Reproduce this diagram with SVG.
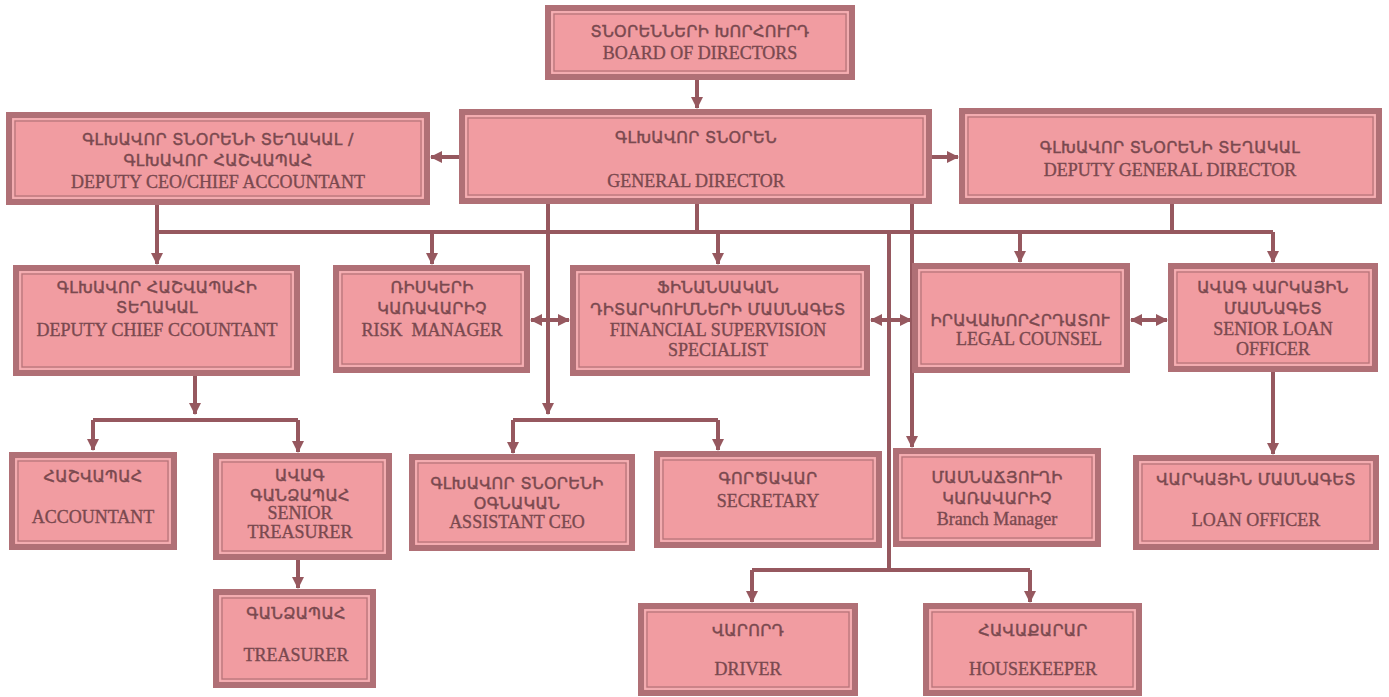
<svg xmlns="http://www.w3.org/2000/svg" width="1389" height="697" viewBox="0 0 1389 697">
<defs>
<style>
.box{fill:#f19ca1;stroke:#b07076;stroke-width:6}
.in1{fill:none;stroke:#f5bcbf;stroke-width:1}
.in2{fill:none;stroke:#b27479;stroke-width:1.2}
text{font-family:"Liberation Serif","DejaVu Serif",serif;font-size:18px;fill:#7a494f;stroke:#7a494f;stroke-width:0.35;text-anchor:middle}
.am{font-family:"DejaVu Sans","Liberation Sans",sans-serif;font-size:16px;letter-spacing:0.3px;stroke-width:0.45}
.ln{fill:none;stroke:#96585f;stroke-width:4}
</style>
<marker id="ah" viewBox="0 0 12 12" refX="11" refY="6" markerWidth="12" markerHeight="12" markerUnits="userSpaceOnUse" orient="auto-start-reverse">
<path d="M0,0 L12,6 L0,12 Z" fill="#96585f"/>
</marker>
</defs>
<rect width="1389" height="697" fill="#ffffff"/>

<g id="connectors">
<path class="ln" d="M697,80 V108" marker-end="url(#ah)"/>
<path class="ln" d="M459,157 H431" marker-end="url(#ah)"/>
<path class="ln" d="M932,157 H958" marker-end="url(#ah)"/>
<path class="ln" d="M157,232 H1273"/>
<path class="ln" d="M157,205 V264" marker-end="url(#ah)"/>
<path class="ln" d="M697,204 V232"/>
<path class="ln" d="M1172,204 V232"/>
<path class="ln" d="M432,232 V264" marker-end="url(#ah)"/>
<path class="ln" d="M718,232 V264" marker-end="url(#ah)"/>
<path class="ln" d="M1020,232 V262" marker-end="url(#ah)"/>
<path class="ln" d="M1273,232 V262" marker-end="url(#ah)"/>
<path class="ln" d="M531,320 H569" marker-start="url(#ah)" marker-end="url(#ah)"/>
<path class="ln" d="M871,320 H911" marker-start="url(#ah)" marker-end="url(#ah)"/>
<path class="ln" d="M1131,320 H1167" marker-start="url(#ah)" marker-end="url(#ah)"/>
<path class="ln" d="M548,204 V414" marker-end="url(#ah)"/>
<path class="ln" d="M513,420 H718"/>
<path class="ln" d="M513,420 V453" marker-end="url(#ah)"/>
<path class="ln" d="M718,420 V450" marker-end="url(#ah)"/>
<path class="ln" d="M889,232 V570"/>
<path class="ln" d="M912,204 V447" marker-end="url(#ah)"/>
<path class="ln" d="M752,570 H1030"/>
<path class="ln" d="M752,570 V602" marker-end="url(#ah)"/>
<path class="ln" d="M1030,570 V602" marker-end="url(#ah)"/>
<path class="ln" d="M195,376 V414" marker-end="url(#ah)"/>
<path class="ln" d="M93,420 H298"/>
<path class="ln" d="M93,420 V450" marker-end="url(#ah)"/>
<path class="ln" d="M298,420 V452" marker-end="url(#ah)"/>
<path class="ln" d="M298,560 V588" marker-end="url(#ah)"/>
<path class="ln" d="M1273,372 V454" marker-end="url(#ah)"/>
</g>

<g id="board">
<rect class="box" x="548" y="8" width="304" height="69"/>
<rect class="in1" x="552" y="12" width="296" height="61"/>
<rect class="in2" x="554" y="14" width="292" height="57"/>
<text x="700" y="37" class="am">ՏՆՕՐԵՆՆԵՐԻ ԽՈՐՀՈՒՐԴ</text>
<text x="700" y="59">BOARD OF DIRECTORS</text>
</g>

<g id="deputy-ceo">
<rect class="box" x="9" y="115" width="418" height="87"/>
<rect class="in1" x="13" y="119" width="410" height="79"/>
<rect class="in2" x="15" y="121" width="406" height="75"/>
<text x="218" y="145" class="am">ԳԼԽԱՎՈՐ ՏՆՕՐԵՆԻ ՏԵՂԱԿԱԼ /</text>
<text x="218" y="166" class="am">ԳԼԽԱՎՈՐ ՀԱՇՎԱՊԱՀ</text>
<text x="218" y="188">DEPUTY CEO/CHIEF ACCOUNTANT</text>
</g>

<g id="general-director">
<rect class="box" x="462" y="112" width="467" height="89"/>
<rect class="in1" x="466" y="116" width="459" height="81"/>
<rect class="in2" x="468" y="118" width="455" height="77"/>
<text x="696" y="143" class="am">ԳԼԽԱՎՈՐ ՏՆՕՐԵՆ</text>
<text x="696" y="187">GENERAL DIRECTOR</text>
</g>

<g id="deputy-general-director">
<rect class="box" x="962" y="111" width="417" height="90"/>
<rect class="in1" x="966" y="115" width="409" height="82"/>
<rect class="in2" x="968" y="117" width="405" height="78"/>
<text x="1170" y="153" class="am">ԳԼԽԱՎՈՐ ՏՆՕՐԵՆԻ ՏԵՂԱԿԱԼ</text>
<text x="1170" y="176">DEPUTY GENERAL DIRECTOR</text>
</g>

<g id="deputy-chief-accountant">
<rect class="box" x="16" y="268" width="281" height="105"/>
<rect class="in1" x="20" y="272" width="273" height="97"/>
<rect class="in2" x="22" y="274" width="269" height="93"/>
<text x="157" y="293" class="am">ԳԼԽԱՎՈՐ ՀԱՇՎԱՊԱՀԻ</text>
<text x="157" y="313" class="am">ՏԵՂԱԿԱԼ</text>
<text x="157" y="336">DEPUTY CHIEF CCOUNTANT</text>
</g>

<g id="risk-manager">
<rect class="box" x="336" y="268" width="191" height="102"/>
<rect class="in1" x="340" y="272" width="183" height="94"/>
<rect class="in2" x="342" y="274" width="179" height="90"/>
<text x="432" y="293" class="am">ՌԻՍԿԵՐԻ</text>
<text x="432" y="314" class="am">ԿԱՌԱՎԱՐԻՉ</text>
<text x="432" y="336" xml:space="preserve">RISK  MANAGER</text>
</g>

<g id="financial-supervision">
<rect class="box" x="573" y="268" width="294" height="105"/>
<rect class="in1" x="577" y="272" width="286" height="97"/>
<rect class="in2" x="579" y="274" width="282" height="93"/>
<text x="718" y="293" class="am">ՖԻՆԱՆՍԱԿԱՆ</text>
<text x="718" y="315" class="am">ԴԻՏԱՐԿՈՒՄՆԵՐԻ ՄԱՍՆԱԳԵՏ</text>
<text x="718" y="336">FINANCIAL SUPERVISION</text>
<text x="718" y="356">SPECIALIST</text>
</g>

<g id="legal-counsel">
<rect class="box" x="915" y="266" width="212" height="104"/>
<rect class="in1" x="919" y="270" width="204" height="96"/>
<rect class="in2" x="921" y="272" width="200" height="92"/>
<text x="1020" y="326" class="am">ԻՐԱՎԱԽՈՐՀՐԴԱՏՈՒ</text>
<text x="1029" y="345">LEGAL COUNSEL</text>
</g>

<g id="senior-loan-officer">
<rect class="box" x="1171" y="266" width="204" height="103"/>
<rect class="in1" x="1175" y="270" width="196" height="95"/>
<rect class="in2" x="1177" y="272" width="192" height="91"/>
<text x="1273" y="293" class="am">ԱՎԱԳ ՎԱՐԿԱՅԻՆ</text>
<text x="1273" y="314" class="am">ՄԱՍՆԱԳԵՏ</text>
<text x="1273" y="335">SENIOR LOAN</text>
<text x="1273" y="355">OFFICER</text>
</g>

<g id="accountant">
<rect class="box" x="12" y="455" width="162" height="92"/>
<rect class="in1" x="16" y="459" width="154" height="84"/>
<rect class="in2" x="18" y="461" width="150" height="80"/>
<text x="93" y="482" class="am">ՀԱՇՎԱՊԱՀ</text>
<text x="93" y="523">ACCOUNTANT</text>
</g>

<g id="senior-treasurer">
<rect class="box" x="216" y="456" width="173" height="101"/>
<rect class="in1" x="220" y="460" width="165" height="93"/>
<rect class="in2" x="222" y="462" width="161" height="89"/>
<text x="300" y="481" class="am">ԱՎԱԳ</text>
<text x="300" y="501" class="am">ԳԱՆՁԱՊԱՀ</text>
<text x="300" y="519">SENIOR</text>
<text x="300" y="538">TREASURER</text>
</g>

<g id="treasurer">
<rect class="box" x="216" y="592" width="157" height="93"/>
<rect class="in1" x="220" y="596" width="149" height="85"/>
<rect class="in2" x="222" y="598" width="145" height="81"/>
<text x="296" y="619" class="am">ԳԱՆՁԱՊԱՀ</text>
<text x="296" y="661">TREASURER</text>
</g>

<g id="assistant-ceo">
<rect class="box" x="412" y="457" width="220" height="91"/>
<rect class="in1" x="416" y="461" width="212" height="83"/>
<rect class="in2" x="418" y="463" width="208" height="79"/>
<text x="517" y="489" class="am">ԳԼԽԱՎՈՐ ՏՆՕՐԵՆԻ</text>
<text x="517" y="509" class="am">ՕԳՆԱԿԱՆ</text>
<text x="517" y="528">ASSISTANT CEO</text>
</g>

<g id="secretary">
<rect class="box" x="657" y="454" width="222" height="91"/>
<rect class="in1" x="661" y="458" width="214" height="83"/>
<rect class="in2" x="663" y="460" width="210" height="79"/>
<text x="768" y="484" class="am">ԳՈՐԾԱՎԱՐ</text>
<text x="768" y="507">SECRETARY</text>
</g>

<g id="branch-manager">
<rect class="box" x="896" y="451" width="202" height="93"/>
<rect class="in1" x="900" y="455" width="194" height="85"/>
<rect class="in2" x="902" y="457" width="190" height="81"/>
<text x="997" y="483" class="am">ՄԱՍՆԱՃՅՈՒՂԻ</text>
<text x="997" y="504" class="am">ԿԱՌԱՎԱՐԻՉ</text>
<text x="997" y="525">Branch Manager</text>
</g>

<g id="loan-officer">
<rect class="box" x="1136" y="458" width="240" height="89"/>
<rect class="in1" x="1140" y="462" width="232" height="81"/>
<rect class="in2" x="1142" y="464" width="228" height="77"/>
<text x="1256" y="485" class="am">ՎԱՐԿԱՅԻՆ ՄԱՍՆԱԳԵՏ</text>
<text x="1256" y="526">LOAN OFFICER</text>
</g>

<g id="driver">
<rect class="box" x="641" y="606" width="214" height="87"/>
<rect class="in1" x="645" y="610" width="206" height="79"/>
<rect class="in2" x="647" y="612" width="202" height="75"/>
<text x="748" y="636" class="am">ՎԱՐՈՐԴ</text>
<text x="748" y="675">DRIVER</text>
</g>

<g id="housekeeper">
<rect class="box" x="926" y="606" width="213" height="87"/>
<rect class="in1" x="930" y="610" width="205" height="79"/>
<rect class="in2" x="932" y="612" width="201" height="75"/>
<text x="1033" y="636" class="am">ՀԱՎԱՔԱՐԱՐ</text>
<text x="1033" y="675">HOUSEKEEPER</text>
</g>
</svg>
